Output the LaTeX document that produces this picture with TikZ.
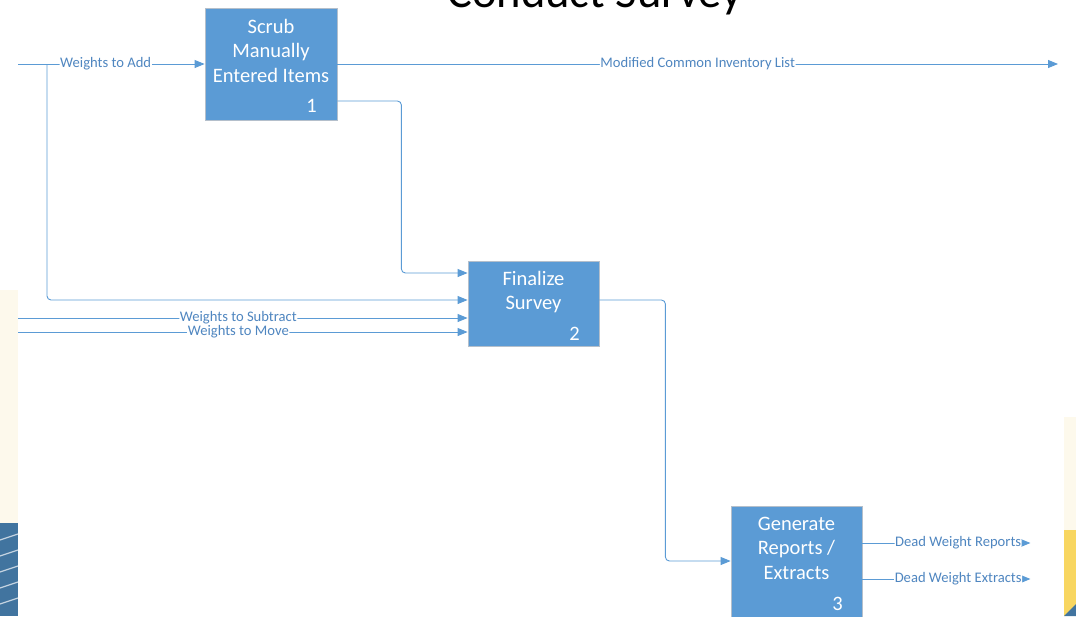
\documentclass[tikz,border=0pt]{standalone}
\usepackage{fontspec}
\setmainfont{Carlito}
\usetikzlibrary{arrows.meta}
\definecolor{procblue}{HTML}{5B9BD5}
\definecolor{procedge}{HTML}{B4BFCB}
\definecolor{flowblue}{HTML}{5B9BD5}
\definecolor{lblblue}{HTML}{4F86C0}
\definecolor{slidecream}{HTML}{FDF9EC}
\definecolor{slideblue}{HTML}{41749F}
\definecolor{slideyellow}{HTML}{F8D660}
\begin{document}
\begin{tikzpicture}[x=1pt,y=-1pt,
    proc/.style={draw=procedge,fill=procblue,line width=0.8pt,inner sep=0pt},
    proctext/.style={text=white,align=center,inner sep=0pt,
      font=\fontsize{20.5}{24.5}\selectfont},
    procnum/.style={text=white,inner sep=0pt,font=\fontsize{20.5}{24.5}\selectfont},
    flow/.style={draw=flowblue,line width=0.9pt,rounded corners=4pt,
      -{Triangle[length=10pt,width=8pt]}},
    lbl/.style={fill=white,text=lblblue,inner sep=0.6pt,
      font=\fontsize{14.6}{14.6}\selectfont}]
  \useasboundingbox (0,0) rectangle (1076,616);
  % slide background showing at the edges
  \fill[slidecream] (0,290) rectangle (18,523);
  \fill[slideblue] (0,523) rectangle (18,616);
  \foreach \s in {540,556,572,588,604}
    \draw[white!70!slideblue,line width=1.2pt] (0,\s) -- (18,\s-6);
  \fill[slidecream] (1064,417) rectangle (1076,530);
  \fill[slideyellow] (1064,530) rectangle (1076,616);
  \fill[slideblue] (1064,616) -- (1076,604) -- (1076,616) -- cycle;
  % title
  \node[anchor=base,inner sep=0pt,font=\fontsize{46.5}{46.5}\selectfont]
    (title) at (595,7) {Conduct Survey};
  % processes
  \node[proc,minimum width=132pt,minimum height=112pt] (scrub) at (271,64) {};
  \node[proc,minimum width=131pt,minimum height=85pt] (final) at (533.5,303.5) {};
  \node[proc,minimum width=131pt,minimum height=116pt] (gen) at (796.5,564) {};
  \node[proctext,anchor=north] (scrubtxt) at ([yshift=-11pt]scrub.north)
    {Scrub\\Manually\\Entered Items};
  \node[proctext,anchor=north] (finaltxt) at ([yshift=-10pt]final.north)
    {Finalize\\Survey};
  \node[proctext,anchor=north] (gentxt) at ([yshift=-11pt]gen.north)
    {Generate\\Reports /\\Extracts};
  \node[procnum,anchor=base east] (scrubno) at (317,112) {1};
  \node[procnum,anchor=base east] (finalno) at (580,340) {2};
  \node[procnum,anchor=base east] (genno) at (843,610) {3};
  % free ends
  \coordinate (inAdd) at (18,64);
  \coordinate (split) at (47,64);
  \coordinate (inSub) at (18,318);
  \coordinate (inMove) at (18,332);
  \coordinate (outList) at (1058,64);
  % connectors
  \draw[flow] (inAdd) -- node[lbl,pos=0.47] {Weights to Add} (inAdd -| scrub.west);
  \draw[flow] (split) |- ([yshift=3.5pt]final.west);
  \draw[flow] (scrub.east) -- node[lbl,pos=0.5] {Modified Common Inventory List} (outList);
  \draw[flow] ([yshift=-37pt]scrub.east) -- ++(64,0) |- ([yshift=30.5pt]final.west);
  \draw[flow] (inSub) -- node[lbl,pos=0.49] {Weights to Subtract} (inSub -| final.west);
  \draw[flow] (inMove) -- node[lbl,pos=0.49] {Weights to Move} (inMove -| final.west);
  \draw[flow] ([yshift=3.5pt]final.east) -- ++(66,0) |- ([yshift=3pt]gen.west);
  \draw[flow] ([yshift=21pt]gen.east) -- node[lbl,pos=0.57] {Dead Weight Reports} ++(168,0);
  \draw[flow] ([yshift=-15pt]gen.east) -- node[lbl,pos=0.57] {Dead Weight Extracts} ++(168,0);
\end{tikzpicture}
\end{document}
